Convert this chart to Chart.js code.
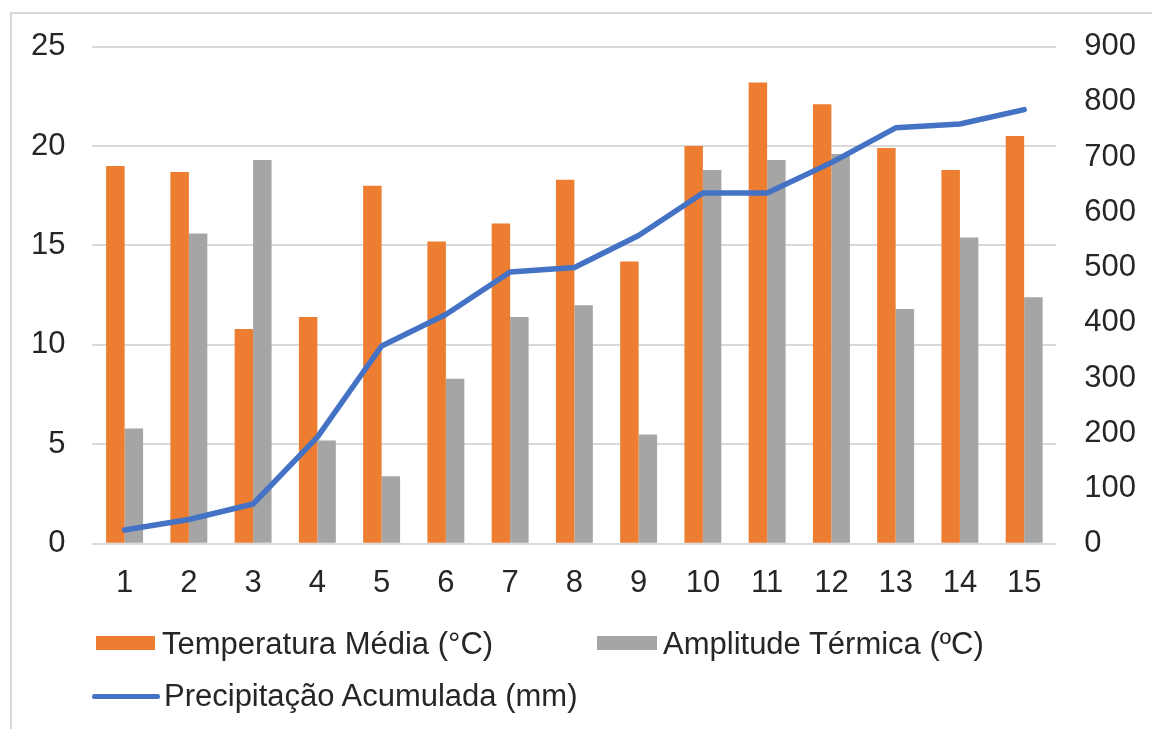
<!DOCTYPE html>
<html>
<head>
<meta charset="utf-8">
<script src="https://cdn.jsdelivr.net/npm/chart.js@4.4.1/dist/chart.umd.min.js"></script>
<style>
  body { margin: 0; background: #fff; width: 1152px; height: 729px; overflow: hidden; position: relative; }
  #frame { position: absolute; left: 10px; top: 12px; width: 1200px; height: 800px; border: 2px solid #d9d9d9; }
  #wrap { position: absolute; left: 0; top: 0; width: 1164px; height: 729px; }
  #legend { position: absolute; left: 0; top: 0; font-family: "Liberation Sans", Arial, sans-serif; font-size: 31px; color: #262626; }
  .item { position: absolute; white-space: nowrap; line-height: 36px; }
  .sym { position: absolute; }
</style>
</head>
<body>
<div id="frame"></div>
<div id="wrap"><canvas id="chart"></canvas></div>
<div id="legend"></div>
<script>
// data
const days = ['1', '2', '3', '4', '5', '6', '7', '8', '9', '10', '11', '12', '13', '14', '15'];
const tempMedia = [19.0, 18.7, 10.8, 11.4, 18.0, 15.2, 16.1, 18.3, 14.2, 20.0, 23.2, 22.1, 19.9, 18.8, 20.5];
const amplitude = [5.8, 15.6, 19.3, 5.2, 3.4, 8.3, 11.4, 12.0, 5.5, 18.8, 19.3, 19.6, 11.8, 15.4, 12.4];
const precipAcum = [25, 44, 72, 193, 358, 415, 492, 500, 558, 635, 635, 690, 753, 760, 786];

const tempTicks = [0, 5, 10, 15, 20, 25];
const precipTicks = [0, 100, 200, 300, 400, 500, 600, 700, 800, 900];

const ORANGE = '#ED7D31';
const GRAY = '#A5A5A5';
const BLUE = '#4472C4';
const FONT = { family: '"Liberation Sans", Arial, sans-serif', size: 31 };

const chart = new Chart(document.getElementById('chart'), {
  data: {
    labels: days,
    datasets: [
      {
        type: 'line', label: 'Precipitação Acumulada (mm)', data: precipAcum,
        yAxisID: 'yR', borderColor: BLUE, backgroundColor: BLUE, borderWidth: 5.5,
        pointRadius: 0, tension: 0, order: 0, borderCapStyle: 'round', borderJoinStyle: 'round'
      },
      {
        type: 'bar', label: 'Temperatura Média (°C)', data: tempMedia,
        yAxisID: 'yL', backgroundColor: ORANGE, order: 1,
        categoryPercentage: 0.575, barPercentage: 1
      },
      {
        type: 'bar', label: 'Amplitude Térmica (ºC)', data: amplitude,
        yAxisID: 'yL', backgroundColor: GRAY, order: 2,
        categoryPercentage: 0.575, barPercentage: 1
      }
    ]
  },
  options: {
    responsive: true,
    maintainAspectRatio: false,
    animation: false,
    layout: { padding: { left: 4, right: 0, top: 46, bottom: 114 } },
    plugins: { legend: { display: false }, tooltip: { enabled: false } },
    scales: {
      x: {
        grid: { display: false },
        border: { display: false },
        ticks: { font: FONT, color: '#262626', padding: 13, maxRotation: 0 }
      },
      yL: {
        position: 'left', min: 0, max: 25,
        afterBuildTicks: s => { s.ticks = tempTicks.map(v => ({ value: v })); },
        grid: { color: '#d9d9d9', lineWidth: 2, drawTicks: false },
        border: { display: false },
        ticks: { font: FONT, color: '#262626', padding: 27 }
      },
      yR: {
        position: 'right', min: 0, max: 900,
        afterBuildTicks: s => { s.ticks = precipTicks.map(v => ({ value: v })); },
        grid: { display: false, drawTicks: false },
        border: { display: false },
        ticks: { font: FONT, color: '#262626', padding: 28 }
      }
    }
  }
});

// legend built from the datasets, placed like the original
const legendPos = [
  { sym: [96, 636, 59, 14], text: [162, 626] },   // Temperatura
  { sym: [597, 636, 60, 14], text: [663, 626] },  // Amplitude
  { sym: [92, 694, 68, 5], text: [164, 678] }     // Precipitação
];
const legendOrder = [1, 2, 0];
const legendEl = document.getElementById('legend');
legendOrder.forEach((di, i) => {
  const ds = chart.data.datasets[di];
  const p = legendPos[i];
  const sym = document.createElement('div');
  sym.className = 'sym';
  sym.style.cssText = `left:${p.sym[0]}px;top:${p.sym[1]}px;width:${p.sym[2]}px;height:${p.sym[3]}px;background:${ds.backgroundColor};` +
    (ds.type === 'line' ? 'border-radius:3px;' : '');
  legendEl.appendChild(sym);
  const t = document.createElement('div');
  t.className = 'item';
  t.style.left = p.text[0] + 'px';
  t.style.top = p.text[1] + 'px';
  t.textContent = ds.label;
  legendEl.appendChild(t);
});
</script>
</body>
</html>
